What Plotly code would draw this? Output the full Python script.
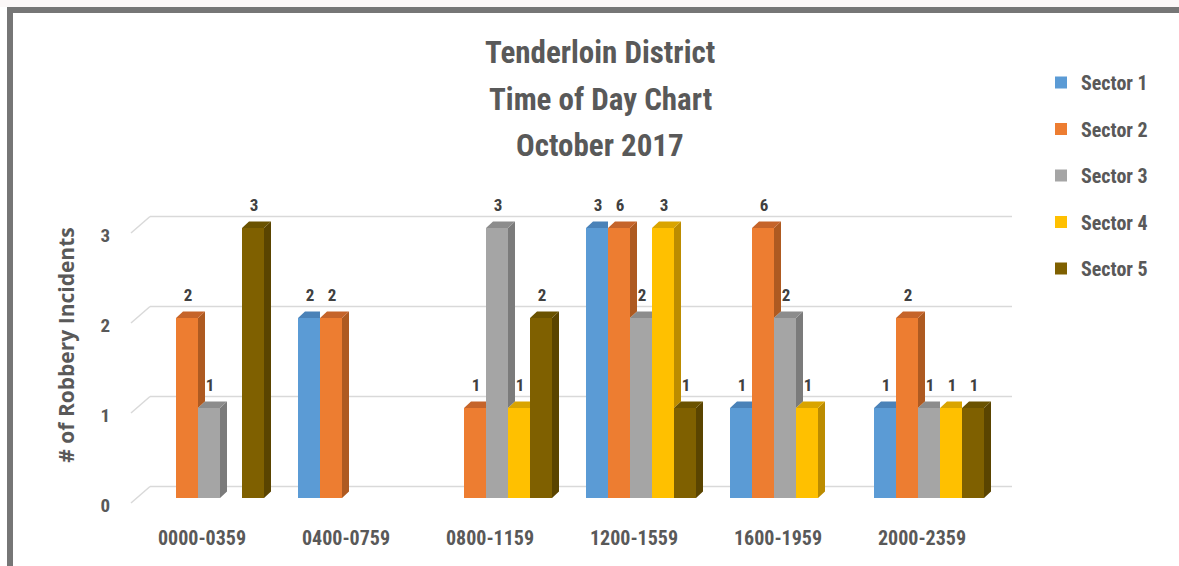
import plotly.graph_objects as go

# ---------------- data ----------------
categories = ["0000-0359", "0400-0759", "0800-1159", "1200-1559", "1600-1959", "2000-2359"]
series_names = ["Sector 1", "Sector 2", "Sector 3", "Sector 4", "Sector 5"]
sector1 = [None, 2, None, 3, 1, 1]
sector2 = [2, 2, 1, 6, 6, 2]
sector3 = [1, None, 3, 2, 2, 1]
sector4 = [None, None, 1, 3, 1, 1]
sector5 = [3, None, 2, 1, None, 1]
y_ticks = [0, 1, 2, 3]
axis_max = 3  # value axis maximum of the original chart (taller bars are cut here)

# ---------------- style ----------------
front_colors = ["#5B9BD5", "#ED7D31", "#A5A5A5", "#FFC000", "#7F6000"]
side_colors = ["#41719C", "#AE5A21", "#7B7B7B", "#BC8C00", "#5A4400"]
top_colors = ["#4A82B8", "#C5642A", "#8C8C8C", "#D9A400", "#6A5200"]
TEXT = "#595959"
FONT = "Liberation Sans Narrow, Roboto Condensed, Arial Narrow, Liberation Sans, sans-serif"
WIDE_FONT = "Open Sans, Lato, sans-serif"

W, H = 1179, 566
L, R, T, B = 137, 178, 192, 68
plot_w = W - L - R
plot_h = H - T - B
x_range = [-0.5, 5.5]
y_range = [0, 3.4]
px_x = plot_w / (x_range[1] - x_range[0])
px_y = plot_h / (y_range[1] - y_range[0])

bargap = 34 / 144
bar_w = (1 - bargap) / 5
dx = 7 / px_x
dy = 6.5 / px_y

all_series = [sector1, sector2, sector3, sector4, sector5]
n_cat = len(categories)

def shown(v):
    return None if v is None else min(v, axis_max)

fig = go.Figure()

# front faces as bars
for j, (name, vals) in enumerate(zip(series_names, all_series)):
    xs, ys = [], []
    for i, v in enumerate(vals):
        if v is None:
            continue
        xs.append(i - (1 - bargap) / 2 + (j + 0.5) * bar_w)
        ys.append(shown(v))
    fig.add_trace(go.Bar(
        x=xs, y=ys, width=bar_w, name="<b>" + name + "</b>",
        marker=dict(color=front_colors[j], line=dict(width=0)),
        legendgroup=name, hoverinfo="skip",
    ))

# depth faces (side and top), built from the same data
for j, vals in enumerate(all_series):
    side_x, side_y, top_x, top_y = [], [], [], []
    for i, v in enumerate(vals):
        if v is None:
            continue
        h = shown(v)
        xl = i - (1 - bargap) / 2 + j * bar_w
        xr = xl + bar_w
        nxt = all_series[j + 1][i] if j + 1 < len(all_series) else None
        hn = shown(nxt) if nxt is not None else 0
        if h > hn:
            side_x += [xr, xr + dx, xr + dx, xr, xr, None]
            side_y += [hn, hn + dy, h + dy, h, hn, None]
            top_x += [xl, xr, xr + dx, xl + dx, xl, None]
            top_y += [h, h, h + dy, h + dy, h, None]
        else:
            top_x += [xl, xr, xr, xl + dx, xl, None]
            top_y += [h, h, h + dy, h + dy, h, None]
    if side_x:
        fig.add_trace(go.Scatter(x=side_x, y=side_y, mode="lines", fill="toself",
                                 fillcolor=side_colors[j], line=dict(width=0),
                                 showlegend=False, hoverinfo="skip"))
    fig.add_trace(go.Scatter(x=top_x, y=top_y, mode="lines", fill="toself",
                             fillcolor=top_colors[j], line=dict(width=0),
                             showlegend=False, hoverinfo="skip"))

# data labels
for j, vals in enumerate(all_series):
    xs, ys, ts = [], [], []
    for i, v in enumerate(vals):
        if v is None:
            continue
        xs.append(i - (1 - bargap) / 2 + (j + 0.5) * bar_w + 1 / px_x)
        ys.append(shown(v) + 21 / px_y)
        ts.append("<b>%d</b>" % v)
    fig.add_trace(go.Scatter(x=xs, y=ys, mode="text", text=ts, textposition="middle center",
                             textfont=dict(family=FONT, size=17, color="#404040"),
                             showlegend=False, hoverinfo="skip", cliponaxis=False))

# ---------------- gridlines on the back wall ----------------
def xp(px):
    return (px - L) / plot_w

def yp(py):
    return (H - B - py) / plot_h

shapes = []
for t in y_ticks:
    front_py = (H - B) - t * px_y
    back_py = front_py - 11.5
    shapes.append(dict(type="line", xref="paper", yref="paper",
                       x0=xp(150), x1=xp(1012), y0=yp(back_py), y1=yp(back_py),
                       line=dict(color="#D9D9D9", width=1.5), layer="below"))
    shapes.append(dict(type="line", xref="paper", yref="paper",
                       x0=xp(131), x1=xp(150), y0=yp(front_py + 5), y1=yp(back_py),
                       line=dict(color="#D9D9D9", width=1.5), layer="below"))

# faint band above the frame
shapes.append(dict(type="rect", xref="paper", yref="paper",
                   x0=xp(-5), x1=xp(W + 5), y0=yp(7), y1=yp(-5),
                   fillcolor="#FBF7F7", line=dict(width=0), layer="above"))
# outer frame (top and left edges)
shapes.append(dict(type="rect", xref="paper", yref="paper",
                   x0=xp(7), x1=xp(W + 5), y0=yp(13), y1=yp(7),
                   fillcolor="#767676", line=dict(width=0), layer="above"))
shapes.append(dict(type="rect", xref="paper", yref="paper",
                   x0=xp(7), x1=xp(13), y0=yp(H + 5), y1=yp(7),
                   fillcolor="#767676", line=dict(width=0), layer="above"))

# title lines
title_lines = ["Tenderloin District", "Time of Day Chart", "October 2017"]
title_y = [52, 100, 145]
annotations = []
for line, ty in zip(title_lines, title_y):
    annotations.append(dict(text="<b>" + line + "</b>", xref="paper", yref="paper",
                            x=xp(600), y=yp(ty), xanchor="center", yanchor="middle",
                            showarrow=False, font=dict(family=FONT, size=31, color=TEXT)))

fig.update_layout(
    width=W, height=H,
    margin=dict(l=L, r=R, t=T, b=B),
    paper_bgcolor="white", plot_bgcolor="white",
    barmode="overlay",
    shapes=shapes, annotations=annotations,
    font=dict(family=FONT, color=TEXT),
    legend=dict(x=xp(1041), y=yp(63), xanchor="left", yanchor="top",
                traceorder="grouped", tracegroupgap=17.5,
                font=dict(family=FONT, size=20, color=TEXT),
                bgcolor="rgba(0,0,0,0)", itemwidth=30),
    xaxis=dict(range=x_range, tickmode="array", tickvals=list(range(n_cat)),
               ticktext=["<b>" + c + "</b>" for c in categories],
               showgrid=False, zeroline=False, showline=False, ticks="",
               tickfont=dict(family=FONT, size=20, color=TEXT),
               ticklabelshift=-7, ticklabelstandoff=26),
    yaxis=dict(range=y_range, tickmode="array", tickvals=y_ticks,
               ticktext=["<b>%d</b>" % t for t in y_ticks],
               showgrid=False, zeroline=False, showline=False, ticks="",
               tickfont=dict(family=FONT, size=19, color=TEXT),
               ticklabelshift=7, ticklabelstandoff=26,
               title=dict(text="<b># of Robbery Incidents</b>", standoff=20,
                          font=dict(family=WIDE_FONT, size=21, color=TEXT))),
)

fig.write_html("out.html", config={"displayModeBar": False},
               post_script="document.body.style.margin='0px';")
